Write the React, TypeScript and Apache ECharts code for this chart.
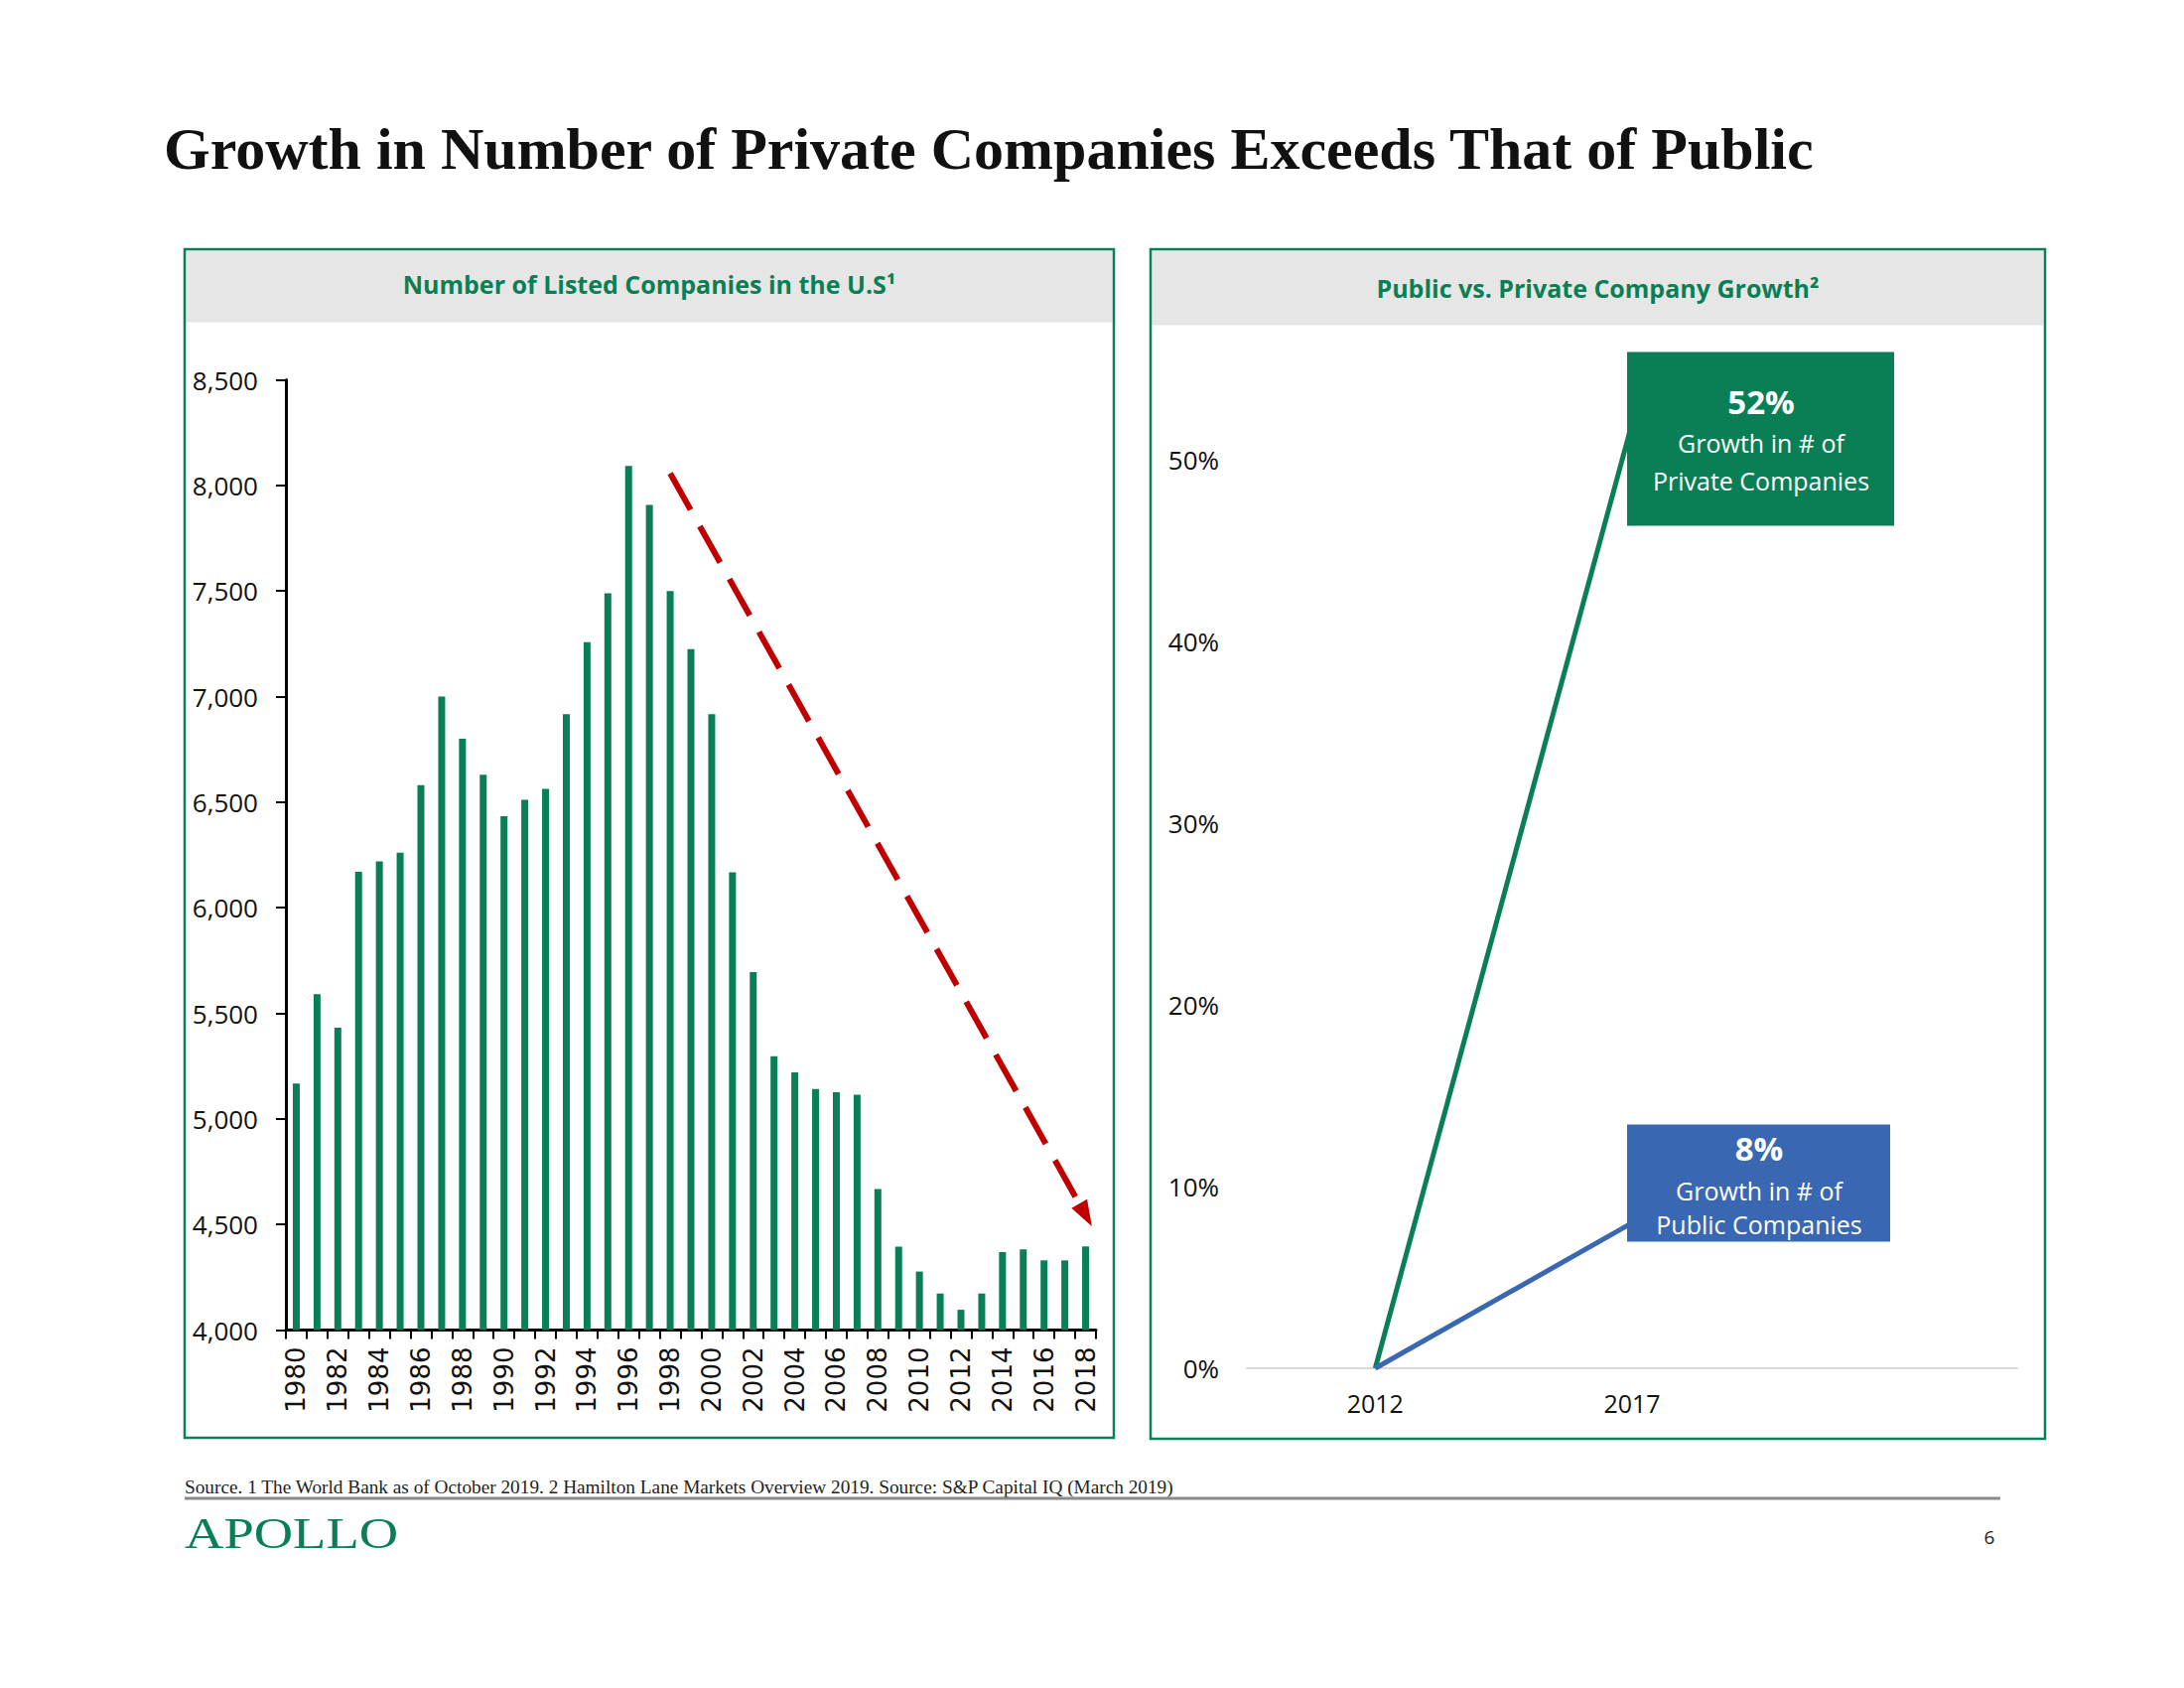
import React, { useEffect, useRef } from 'react';
import * as echarts from 'echarts';

// ---------- data ----------
const years = [
  '1980', '1981', '1982', '1983', '1984', '1985', '1986', '1987', '1988', '1989',
  '1990', '1991', '1992', '1993', '1994', '1995', '1996', '1997', '1998', '1999',
  '2000', '2001', '2002', '2003', '2004', '2005', '2006', '2007', '2008', '2009',
  '2010', '2011', '2012', '2013', '2014', '2015', '2016', '2017', '2018',
];
const listedCompanies = [
  5167, 5590, 5432, 6170, 6220, 6260, 6580, 7000, 6800, 6630,
  6433, 6511, 6563, 6917, 7258, 7489, 8092, 7908, 7500, 7224,
  6917, 6168, 5695, 5297, 5220, 5141, 5126, 5115, 4668, 4395,
  4277, 4173, 4096, 4173, 4369, 4382, 4330, 4330, 4396,
];
const trendStart = ['1998', 8057];
const trendEnd = ['2018', 4545];

const growthYears = ['2012', '2017', ''];
const privateGrowth = [0, 52];
const publicGrowth = [0, 8];
const privateBoxLines = ['52%', 'Growth in # of', 'Private Companies'];
const publicBoxLines = ['8%', 'Growth in # of', 'Public Companies'];

const titleText = 'Growth in Number of Private Companies Exceeds That of Public';
const leftHeader = 'Number of Listed Companies in the U.S\u00B9';
const rightHeader = 'Public vs. Private Company Growth\u00B2';
const sourceText =
  'Source. 1 The World Bank as of October 2019. 2 Hamilton Lane Markets Overview 2019. Source: S&P Capital IQ (March 2019)';

// ---------- styles ----------
const GREEN = '#0A7F56';
const BLUE = '#3A67B1';
const RED = '#C00000';
const SANS = '"Open Sans", "Noto Sans", sans-serif';
const WIDE = '"DejaVu Sans", Verdana, sans-serif';
const SERIF = '"Liberation Serif", "DejaVu Serif", serif';

export default function App() {
  const ref = useRef<HTMLDivElement>(null);

  useEffect(() => {
    document.body.style.margin = '0';
    const chart = echarts.init(ref.current as HTMLDivElement, null, { renderer: 'svg' });

    const staticGraphic: any[] = [
      {
        id: 'title', type: 'text', x: 165, y: 150, z: 10,
        style: { text: titleText, fill: '#111', fontFamily: SERIF, fontWeight: 'bold', fontSize: 60, align: 'left', verticalAlign: 'middle' },
      },
      {
        id: 'lband', type: 'rect', z: 1,
        shape: { x: 187.5, y: 252.5, width: 933, height: 72 },
        style: { fill: '#E7E6E6' },
      },
      {
        id: 'lborder', type: 'rect', z: 2,
        shape: { x: 186, y: 251, width: 936, height: 1197 },
        style: { fill: 'none', stroke: GREEN, lineWidth: 2.5 },
      },
      {
        id: 'lhead', type: 'text', x: 654, y: 286, z: 10,
        style: { text: leftHeader, fill: GREEN, fontFamily: SANS, fontWeight: 'bold', fontSize: 25, align: 'center', verticalAlign: 'middle' },
      },
      {
        id: 'rband', type: 'rect', z: 1,
        shape: { x: 1160.5, y: 252.5, width: 898, height: 75 },
        style: { fill: '#E7E6E6' },
      },
      {
        id: 'rborder', type: 'rect', z: 2,
        shape: { x: 1159, y: 251, width: 901, height: 1198 },
        style: { fill: 'none', stroke: GREEN, lineWidth: 2.5 },
      },
      {
        id: 'rhead', type: 'text', x: 1609.5, y: 290, z: 10,
        style: { text: rightHeader, fill: GREEN, fontFamily: SANS, fontWeight: 'bold', fontSize: 25, align: 'center', verticalAlign: 'middle' },
      },
      {
        id: 'source', type: 'text', x: 186, y: 1497, z: 10,
        style: { text: sourceText, fill: '#222', fontFamily: SERIF, fontSize: 19.3, align: 'left', verticalAlign: 'middle' },
      },
      {
        id: 'rule', type: 'line', z: 10,
        shape: { x1: 186, y1: 1509, x2: 2015, y2: 1509 },
        style: { stroke: '#8A8A8A', lineWidth: 3 },
      },
      {
        id: 'logo', type: 'text', x: 186, y: 1544, z: 10, scaleX: 1.24,
        style: { text: 'APOLLO', fill: GREEN, fontFamily: SERIF, fontSize: 44, align: 'left', verticalAlign: 'middle' },
      },
      {
        id: 'page', type: 'text', x: 2004, y: 1548, z: 10,
        style: { text: '6', fill: '#222', fontFamily: SANS, fontSize: 19, align: 'center', verticalAlign: 'middle' },
      },
    ];

    const option: any = {
      animation: false,
      backgroundColor: '#ffffff',
      grid: [
        { left: 288, top: 382.5, width: 816, height: 957, containLabel: false },
        { left: 1256, top: 371.5, width: 776, height: 1006.5, containLabel: false },
      ],
      xAxis: [
        {
          type: 'category', gridIndex: 0, data: years,
          axisLine: { show: true, lineStyle: { color: '#000', width: 3 } },
          axisTick: { show: true, interval: 0, length: 9, lineStyle: { color: '#000', width: 2 } },
          axisLabel: { interval: 1, rotate: 90, fontSize: 26, fontFamily: WIDE, color: '#111', margin: 17 },
          splitLine: { show: false },
        },
        {
          type: 'category', gridIndex: 1, data: growthYears,
          axisLine: { show: true, lineStyle: { color: '#D9D9D9', width: 2 } },
          axisTick: { show: false },
          axisLabel: { fontSize: 25, fontFamily: SANS, color: '#111', margin: 22 },
          splitLine: { show: false },
        },
      ],
      yAxis: [
        {
          type: 'value', gridIndex: 0, min: 4000, max: 8500, interval: 500,
          axisLine: { show: true, lineStyle: { color: '#000', width: 3 } },
          axisTick: { show: true, length: 10, lineStyle: { color: '#000', width: 2 } },
          axisLabel: {
            fontSize: 26, fontFamily: SANS, color: '#111', margin: 28,
            formatter: (v: number) => v.toLocaleString('en-US'),
          },
          splitLine: { show: false },
        },
        {
          type: 'value', gridIndex: 1, min: 0, max: 55, interval: 10,
          axisLine: { show: false },
          axisTick: { show: false },
          axisLabel: { fontSize: 26, fontFamily: SANS, color: '#111', margin: 28, formatter: '{value}%', showMaxLabel: false },
          splitLine: { show: false },
        },
      ],
      series: [
        {
          name: 'Listed companies', type: 'bar', xAxisIndex: 0, yAxisIndex: 0,
          data: listedCompanies, barWidth: 7,
          itemStyle: { color: GREEN },
          markLine: {
            silent: true,
            symbol: ['none', 'triangle'],
            symbolSize: [18, 26],
            label: { show: false },
            lineStyle: { color: RED, width: 6, type: [42, 19] },
            data: [[{ coord: trendStart }, { coord: trendEnd }]],
          },
        },
        {
          name: 'Private', type: 'line', xAxisIndex: 1, yAxisIndex: 1,
          data: privateGrowth, symbol: 'none',
          lineStyle: { color: GREEN, width: 5 },
        },
        {
          name: 'Public', type: 'line', xAxisIndex: 1, yAxisIndex: 1,
          data: publicGrowth, symbol: 'none',
          lineStyle: { color: BLUE, width: 5 },
        },
      ],
      graphic: staticGraphic,
    };

    chart.setOption(option);

    const pPriv = chart.convertToPixel({ xAxisIndex: 1, yAxisIndex: 1 }, [growthYears[1], privateGrowth[1]]) as number[];
    const pPub = chart.convertToPixel({ xAxisIndex: 1, yAxisIndex: 1 }, [growthYears[1], publicGrowth[1]]) as number[];

    const box = (id: string, p: number[], fill: string, dx: number, dy: number, w: number, h: number,
      lines: string[], offsets: number[], cx: number) => {
      const els: any[] = [
        { id: id + '_r', type: 'rect', z: 50, shape: { x: p[0] + dx, y: p[1] + dy, width: w, height: h }, style: { fill } },
      ];
      lines.forEach((t, i) => {
        els.push({
          id: id + '_t' + i, type: 'text', z: 51, x: p[0] + cx, y: p[1] + offsets[i],
          style: {
            text: t, fill: '#fff', fontFamily: SANS, fontWeight: i === 0 ? 'bold' : 'normal',
            fontSize: i === 0 ? 33 : 25, align: 'center', verticalAlign: 'middle',
          },
        });
      });
      return els;
    };

    const boxes = [
      ...box('priv', pPriv, GREEN, -5, -72, 269, 175, privateBoxLines, [-22, 20, 58], 130),
      ...box('pub', pPub, BLUE, -5, -99, 265, 118, publicBoxLines, [-75, -33, 1], 128),
    ];

    chart.setOption({ graphic: [...staticGraphic, ...boxes] });

    return () => chart.dispose();
  }, []);

  return <div ref={ref} style={{ width: 2200, height: 1700 }} />;
}
